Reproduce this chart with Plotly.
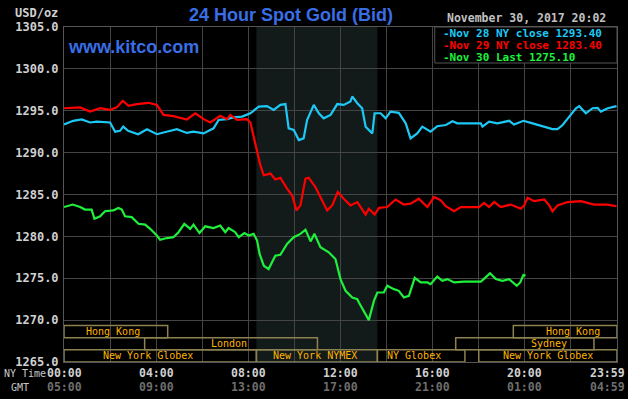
import plotly.graph_objects as go

# ---------------- data (hours since 00:00 NY time, price USD/oz) ----------------
nov28_h = [0.00, 0.40, 0.77, 1.13, 1.42, 2.00, 2.22, 2.43, 2.57, 2.78, 3.22, 3.60, 4.03, 4.47, 4.90,
           5.33, 5.62, 6.06, 6.49, 6.71, 7.07, 7.36, 7.73, 8.09, 8.45, 8.81, 9.10, 9.39, 9.61, 9.75,
           9.97, 10.19, 10.40, 10.55, 10.84, 11.06, 11.27, 11.57, 11.86, 12.14, 12.43, 12.51, 12.73,
           12.94, 13.09, 13.38, 13.48, 13.74, 13.96, 14.17, 14.53, 14.83, 15.04, 15.33, 15.55, 15.91,
           16.20, 16.57, 16.86, 17.07, 18.09, 18.16, 18.45, 18.81, 19.32, 19.53, 19.94, 20.26, 20.84,
           21.20, 21.42, 21.64, 21.93, 22.22, 22.36, 22.65, 22.94, 23.16, 23.30, 23.60, 23.98]
nov28_p = [1293.36, 1293.8, 1293.96, 1293.6, 1293.7, 1293.6, 1292.5, 1292.6, 1293.1, 1292.6, 1292.2,
           1292.8, 1292.2, 1292.55, 1292.8, 1292.35, 1292.5, 1292.3, 1292.9, 1293.9, 1294.0, 1294.2,
           1294.3, 1294.7, 1295.5, 1295.55, 1295.1, 1295.7, 1295.8, 1292.9, 1292.7, 1291.5, 1291.7,
           1293.9, 1295.7, 1294.7, 1294.1, 1294.5, 1295.8, 1295.7, 1296.1, 1296.7, 1295.9, 1295.3,
           1293.1, 1292.3, 1294.7, 1294.7, 1294.1, 1294.9, 1294.75, 1293.5, 1291.7, 1292.3, 1293.1,
           1292.5, 1293.15, 1293.3, 1293.75, 1293.5, 1293.5, 1293.1, 1293.7, 1293.5, 1293.8, 1293.35,
           1293.8, 1293.55, 1293.1, 1292.8, 1292.8, 1293.3, 1294.3, 1295.3, 1295.55, 1294.7, 1295.3,
           1295.35, 1294.9, 1295.3, 1295.55]

nov29_h = [0.00, 0.70, 1.13, 1.57, 2.00, 2.29, 2.55, 2.80, 3.16, 3.67, 4.03, 4.32, 4.75, 5.33, 5.70,
           6.06, 6.35, 6.78, 7.07, 7.22, 7.51, 7.94, 8.09, 8.26, 8.39, 8.52, 8.67, 8.96, 9.17, 9.39,
           9.68, 9.90, 10.09, 10.26, 10.48, 10.62, 10.91, 11.20, 11.42, 11.64, 11.88, 12.14, 12.43,
           12.73, 13.09, 13.23, 13.48, 13.67, 14.03, 14.39, 14.75, 15.04, 15.40, 15.77, 16.06, 16.35,
           16.57, 16.93, 17.22, 18.01, 18.23, 18.45, 18.67, 18.96, 19.39, 19.83, 19.97, 20.12, 20.40,
           20.84, 21.06, 21.20, 21.42, 21.86, 22.43, 23.01, 23.60, 23.98]
nov29_p = [1295.3, 1295.4, 1294.9, 1295.3, 1295.1, 1295.4, 1296.2, 1295.6, 1295.8, 1295.95, 1295.7,
           1294.5, 1294.35, 1293.96, 1294.7, 1294.0, 1293.6, 1294.4, 1294.0, 1294.5, 1293.9, 1294.0,
           1293.6, 1291.5, 1290.0, 1288.5, 1287.3, 1287.5, 1286.8, 1287.0, 1285.7, 1284.9, 1283.1,
           1283.7, 1286.9, 1287.0, 1285.9, 1284.3, 1283.1, 1283.7, 1285.3, 1284.5, 1283.7, 1284.1,
           1282.6, 1283.3, 1282.6, 1283.4, 1283.5, 1284.4, 1283.8, 1283.9, 1284.5, 1283.5, 1284.7,
           1284.3, 1283.6, 1283.0, 1283.5, 1283.5, 1284.0, 1283.5, 1284.1, 1283.5, 1283.8, 1283.3,
           1283.7, 1284.6, 1284.2, 1284.4, 1283.7, 1283.0, 1283.7, 1284.1, 1284.2, 1283.8, 1283.8,
           1283.6]

nov30_h = [0.00, 0.38, 0.70, 0.91, 1.20, 1.32, 1.57, 1.78, 2.14, 2.36, 2.51, 2.65, 2.94, 3.23, 3.52,
           3.74, 4.03, 4.17, 4.47, 4.75, 4.97, 5.22, 5.48, 5.62, 5.88, 6.13, 6.49, 6.78, 7.00, 7.14,
           7.43, 7.58, 7.83, 8.01, 8.23, 8.38, 8.49, 8.67, 8.88, 9.17, 9.39, 9.68, 9.97, 10.26, 10.48,
           10.70, 10.87, 11.13, 11.49, 11.78, 12.00, 12.22, 12.51, 12.73, 12.80, 13.01, 13.23, 13.45,
           13.60, 13.88, 14.03, 14.32, 14.53, 14.75, 14.97, 15.22, 15.48, 15.77, 15.91, 16.20, 16.42,
           16.64, 16.93, 17.36, 18.09, 18.30, 18.49, 18.74, 19.03, 19.32, 19.65, 19.80, 19.94, 20.03]
nov30_p = [1283.5, 1283.8, 1283.5, 1283.2, 1283.2, 1282.1, 1282.4, 1283.0, 1283.1, 1283.4, 1283.2,
           1282.4, 1282.3, 1281.5, 1281.4, 1280.9, 1280.1, 1279.6, 1279.8, 1279.9, 1280.5, 1281.5,
           1280.9, 1281.4, 1280.4, 1281.2, 1281.0, 1281.3, 1280.5, 1281.0, 1280.5, 1279.9, 1280.4,
           1280.1, 1280.3, 1279.5, 1277.9, 1276.5, 1276.1, 1277.7, 1277.8, 1279.1, 1279.9, 1280.3,
           1280.8, 1279.4, 1280.3, 1278.7, 1278.1, 1277.3, 1274.9, 1273.5, 1272.7, 1272.5, 1272.1,
           1271.1, 1270.0, 1272.3, 1273.3, 1273.3, 1274.1, 1273.7, 1273.5, 1272.7, 1272.9, 1275.05,
           1274.5, 1274.5, 1274.3, 1275.2, 1274.7, 1274.9, 1274.5, 1274.6, 1274.6, 1275.1, 1275.6,
           1274.9, 1274.7, 1274.9, 1274.1, 1274.5, 1275.4, 1275.3]

series_names = ["Nov 28 NY close", "Nov 29 NY close", "Nov 30 Last"]
series_values = ["1293.40", "1283.40", "1275.10"]
series_colors = ["#1ec8f5", "#ff0000", "#1ef03c"]

# x tick labels (NY time / GMT)
xtick_pos = [0, 4, 8, 12, 16, 20, 23.57]
ny_labels = ["00:00", "04:00", "08:00", "12:00", "16:00", "20:00", "23:59"]
gmt_labels = ["05:00", "09:00", "13:00", "17:00", "21:00", "01:00", "04:59"]

# trading session bands
band_names = ["Hong Kong", "Hong Kong", "London", "Sydney",
              "New York Globex", "New York NYMEX", "NY Globex", "New York Globex"]
band_start = [0, 19.5, 3.5, 17.0, 0, 8.35, 13.6, 18.0]
band_end = [4.5, 24, 11.0, 23.0, 8.35, 13.6, 17.4, 24]
band_row = [2, 2, 1, 1, 0, 0, 0, 0]
band_label_x = [2.13, 22.1, 7.17, 21.03, 3.65, 10.9, 15.2, 21.0]

pit_start, pit_end = 8.35, 13.6

# ---------------- figure ----------------
fig = go.Figure()
for h, p, c in zip([nov28_h, nov29_h, nov30_h], [nov28_p, nov29_p, nov30_p], series_colors):
    fig.add_trace(go.Scatter(x=h, y=p, mode="lines", line=dict(color=c, width=2.2),
                             hoverinfo="skip", showlegend=False))

shapes = []
shapes.append(dict(type="rect", xref="x", yref="y", x0=pit_start, x1=pit_end, y0=1265, y1=1305,
                   fillcolor="#131a1a", line=dict(width=0), layer="below"))
row_h = 1.45
for s, e, r in zip(band_start, band_end, band_row):
    shapes.append(dict(type="rect", xref="x", yref="y", x0=s, x1=e,
                       y0=1265 + r * row_h, y1=1265 + (r + 1) * row_h,
                       line=dict(color="#8c8250", width=1.5), fillcolor="rgba(0,0,0,0)", layer="above"))
# legend box
shapes.append(dict(type="rect", xref="x", yref="y", x0=16.09, x1=24, y0=1300.7, y1=1305,
                   fillcolor="#000000", line=dict(color="#555555", width=1), layer="above"))

ann = []
mono = "DejaVu Sans Mono"
for name, r, lx in zip(band_names, band_row, band_label_x):
    ann.append(dict(x=lx, y=1265 + (r + 0.5) * row_h, xref="x", yref="y", text=name, showarrow=False,
                    font=dict(family=mono, size=10, color="#ffb400"), xanchor="center", yanchor="middle"))
for xp, a, b in zip(xtick_pos, ny_labels, gmt_labels):
    ann.append(dict(x=xp, y=-0.033, xref="x", yref="paper", text=a, showarrow=False,
                    font=dict(family=mono, size=11.5, color="#d0d0d0", weight="bold"),
                    xanchor="center", yanchor="middle"))
    ann.append(dict(x=xp, y=-0.075, xref="x", yref="paper", text=b, showarrow=False,
                    font=dict(family=mono, size=11.5, color="#6e6e6e", weight="bold"),
                    xanchor="center", yanchor="middle"))
ann.append(dict(x=-0.113, y=-0.033, xref="paper", yref="paper", text="NY Time", showarrow=False,
                font=dict(family=mono, size=10, color="#c8c8c8"), xanchor="left", yanchor="middle"))
ann.append(dict(x=-0.099, y=-0.075, xref="paper", yref="paper", text="GMT", showarrow=False,
                font=dict(family=mono, size=10, color="#c8c8c8"), xanchor="left", yanchor="middle"))
ann.append(dict(x=-0.007, y=1.042, xref="paper", yref="paper", text="USD/oz", showarrow=False,
                font=dict(family=mono, size=12, color="#d0d0d0", weight="bold"),
                xanchor="right", yanchor="middle"))
ann.append(dict(x=0.411, y=1.036, xref="paper", yref="paper", text="24 Hour Spot Gold (Bid)",
                showarrow=False, font=dict(family="Liberation Sans", size=18, color="#3a6ee6", weight="bold"),
                xanchor="center", yanchor="middle"))
ann.append(dict(x=0.0036, y=0.940, xref="paper", yref="paper", text="www.kitco.com", showarrow=False,
                font=dict(family="Liberation Sans", size=18, color="#3a6ee6", weight="bold"),
                xanchor="left", yanchor="middle"))
ann.append(dict(x=0.9837, y=1.027, xref="paper", yref="paper", text="November 30, 2017 20:02",
                showarrow=False, font=dict(family=mono, size=11.5, color="#c0c0c0", weight="bold"),
                xanchor="right", yanchor="middle"))
for i, (n, v, c) in enumerate(zip(series_names, series_values, series_colors)):
    ann.append(dict(x=0.681, y=0.982 - i * 0.036, xref="paper", yref="paper",
                    text="-" + n + " " + v, showarrow=False,
                    font=dict(family=mono, size=11, color=c, weight="bold"),
                    xanchor="left", yanchor="middle"))

fig.update_layout(
    width=628, height=399,
    margin=dict(l=64, r=11, t=27, b=37, autoexpand=False),
    paper_bgcolor="#000000", plot_bgcolor="#000000",
    shapes=shapes, annotations=ann, showlegend=False,
    xaxis=dict(range=[0, 24], tick0=0, dtick=2, showgrid=True, gridcolor="#444444", gridwidth=1,
               showticklabels=False, zeroline=False, showline=True, linecolor="#555555", mirror=True,
               ticks="", automargin=False),
    yaxis=dict(range=[1265, 1305], tick0=1265, dtick=5, showgrid=True, gridcolor="#444444", gridwidth=1,
               tickformat=".1f", zeroline=False, showline=True, linecolor="#555555", mirror=True,
               tickfont=dict(family=mono, size=12, color="#d0d0d0", weight="bold"), ticks="",
               ticklabelstandoff=2, automargin=False),
)
fig.write_html("out.html", config={"displayModeBar": False},
               post_script="document.body.style.margin='0';document.body.style.background='#000';")
